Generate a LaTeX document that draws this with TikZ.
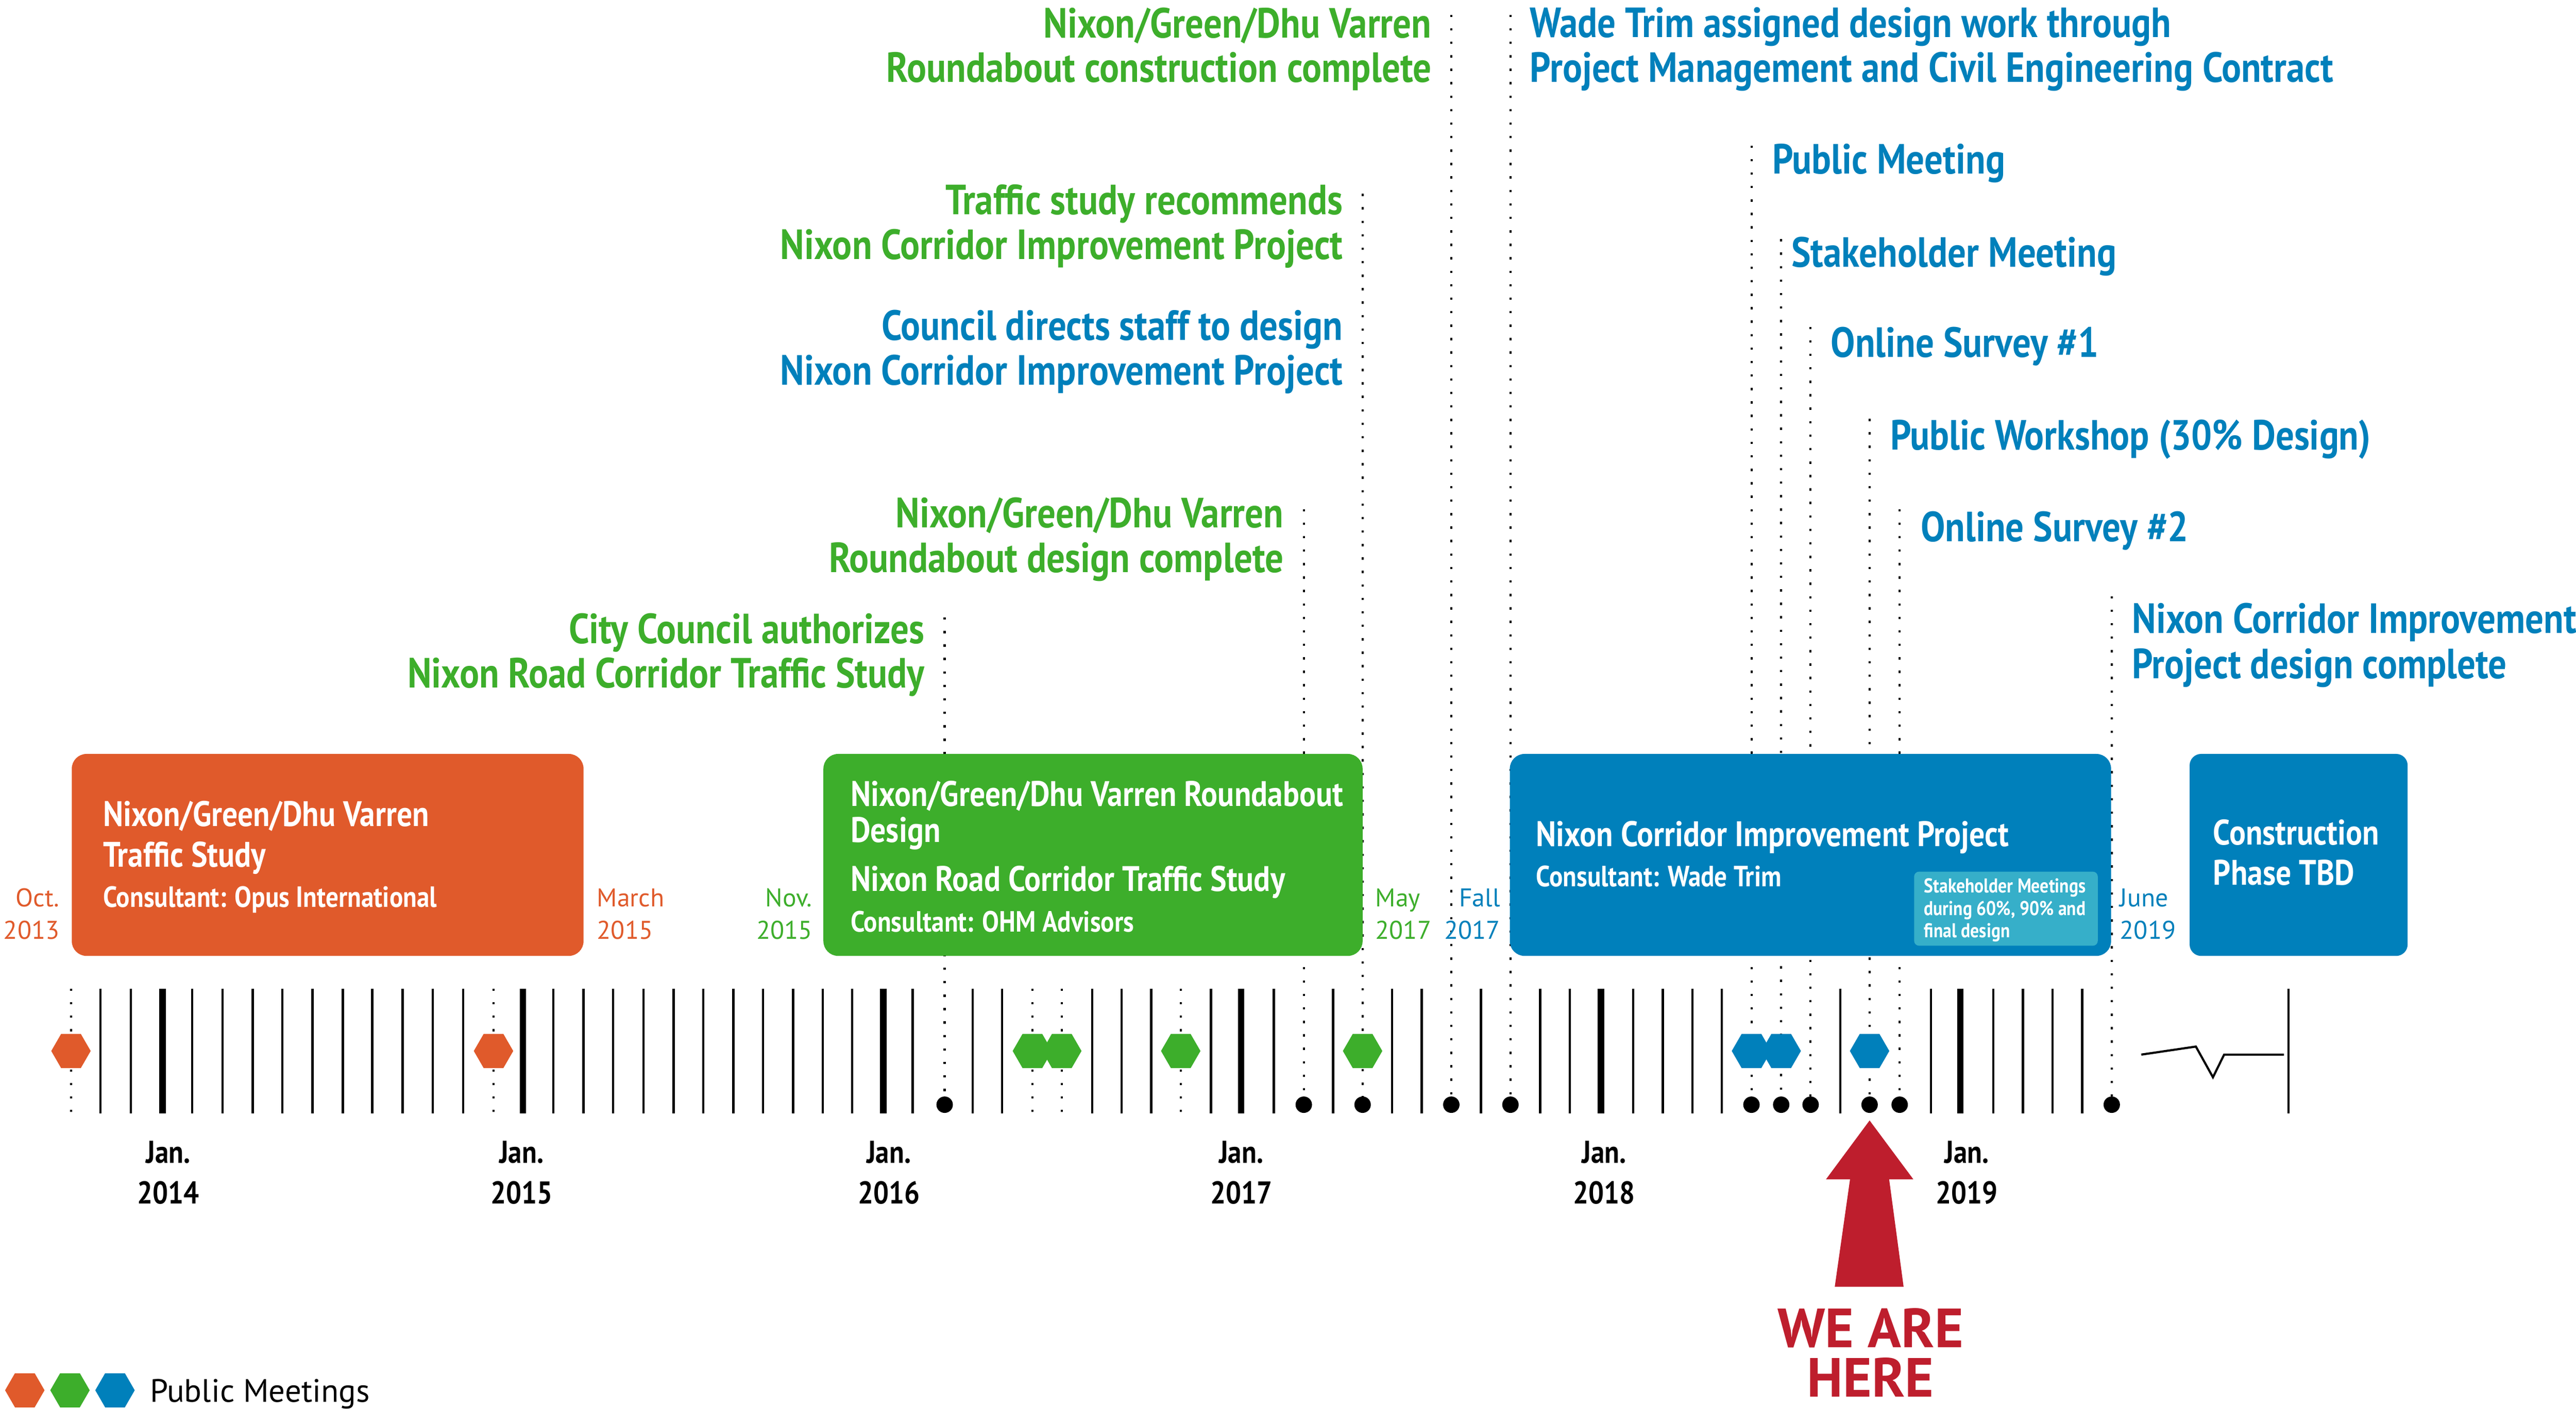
\documentclass[tikz,border=0pt]{standalone}
\usepackage{fontspec}
\setmainfont{PT Sans}
\newfontfamily\condf[FakeStretch=0.865]{PT Sans}
\usetikzlibrary{shapes.geometric}
\definecolor{corange}{HTML}{E05A2B}
\definecolor{cgreen}{HTML}{3DAE2B}
\definecolor{cblue}{HTML}{0080BB}
\definecolor{clight}{HTML}{36AFC9}
\definecolor{cred}{HTML}{BE1E2D}
\begin{document}
\begin{tikzpicture}[x=1pt,y=-1pt,
  toplbl/.style={inner sep=0pt, font=\condf\bfseries\fontsize{25.7}{26}\selectfont},
  lblR/.style={toplbl, anchor=base east},
  lblL/.style={toplbl, anchor=base west, text=cblue},
  boxtitle/.style={inner sep=0pt, anchor=base west, text=white, font=\condf\bfseries\fontsize{21.6}{24}\selectfont},
  boxsub/.style={inner sep=0pt, anchor=base west, text=white, font=\condf\bfseries\fontsize{17.8}{20}\selectfont},
  smalltxt/.style={inner sep=0pt, anchor=base west, text=white, font=\condf\bfseries\fontsize{12.2}{13}\selectfont},
  datelbl/.style={inner sep=0pt, font=\fontsize{15.6}{16}\selectfont},
  yearlbl/.style={inner sep=0pt, anchor=base, font=\condf\bfseries\fontsize{19.2}{20}\selectfont},
  phasebox/.style={draw=none, rounded corners=9pt, anchor=north west, inner sep=0pt},
  tickthin/.style={line width=1.4pt},
  tickthick/.style={line width=3.9pt},
  evline/.style={line width=1.3pt, dash pattern=on 1.4pt off 6.8pt},
  evdot/.style={circle, fill=black, minimum size=10pt, inner sep=0pt},
  hexm/.style={regular polygon, regular polygon sides=6, minimum size=24pt, inner sep=0pt, fill=#1}
]
\useasboundingbox[fill=white] (0,0) rectangle (1568,858);

% ---- month ticks
\foreach \x in {61.1,79.6,116.9,135.4,153.8,171.8,190.2,208.7,226.6,245.1,263.5,281.9,
  336.8,355.2,373.2,391.6,410.0,428.0,446.4,464.4,482.8,500.8,518.7,555.6,592.0,610.0,
  664.8,682.7,700.7,737.1,775.3,811.4,847.4,865.4,901.4,937.5,955.5,994.1,1012.1,1030.1,
  1048.1,1120.2,1175.3,1213.3,1231.4,1249.4,1267.4,1393.0}
  \draw[tickthin] (\x,602) -- (\x,678);
\foreach \x in {99.0,318.3,537.7,755.5,974.5,1193.3}
  \draw[tickthick] (\x,602) -- (\x,678);
\foreach \x in {43.2,300.4,628.4,646.3,718.7}
  \draw[evline] (\x,602) -- (\x,678);

% ---- break symbol
\draw[line width=1.3pt, line join=miter] (1303.4,642.2) -- (1336.6,637.3) -- (1347,656) -- (1353.8,642.2) -- (1390.2,642.2);

% ---- event dots and dotted lines
\node[evdot] (dE) at (575.0,672.7) {};
\node[evdot] (dD) at (793.6,672.7) {};
\node[evdot] (dB) at (829.4,672.7) {};
\node[evdot] (dA) at (883.4,672.7) {};
\node[evdot] (dF) at (919.4,672.7) {};
\node[evdot] (dG) at (1066.1,672.7) {};
\node[evdot] (dH) at (1084.2,672.7) {};
\node[evdot] (dI) at (1102.1,672.7) {};
\node[evdot] (dJ) at (1138.0,672.7) {};
\node[evdot] (dK) at (1156.3,672.7) {};
\node[evdot] (dL) at (1285.4,672.7) {};
\coordinate (tE) at (575.0,376);
\coordinate (tD) at (793.6,310);
\coordinate (tB) at (829.4,118);
\coordinate (tA) at (883.4,9);
\coordinate (tF) at (919.4,9);
\coordinate (tG) at (1066.1,88.6);
\coordinate (tH) at (1084.2,145.6);
\coordinate (tI) at (1102.1,199);
\coordinate (tJ) at (1138.0,255);
\coordinate (tK) at (1156.3,310);
\coordinate (tL) at (1285.4,363);
\foreach \e in {E,D,B,A,F,G,H,I,J,K,L}
  \draw[evline] (t\e) -- (d\e.center);

% ---- public meeting hexagons
\node[hexm=corange] (h1) at (43.2,640) {};
\node[hexm=corange] (h2) at (300.4,640) {};
\node[hexm=cgreen] (h3) at (628.4,640) {};
\node[hexm=cgreen] (h4) at (646.3,640) {};
\node[hexm=cgreen] (h5) at (718.7,640) {};
\node[hexm=cgreen] (h6) at (829.4,640) {};
\node[hexm=cblue] (h7) at (1066.1,640) {};
\node[hexm=cblue] (h8) at (1084.2,640) {};
\node[hexm=cblue] (h9) at (1138.0,640) {};

% ---- phase boxes
\node[phasebox, fill=corange, minimum width=311.5pt, minimum height=123pt] (boxA) at (43.5,458.9) {};
\node[phasebox, fill=cgreen, minimum width=328.2pt, minimum height=123pt] (boxB) at (501.0,458.9) {};
\node[phasebox, fill=cblue, minimum width=366pt, minimum height=123pt] (boxC) at (918.8,458.9) {};
\node[phasebox, fill=cblue, rounded corners=7pt, minimum width=132.7pt, minimum height=123pt] (boxD) at (1332.6,458.9) {};
\node[phasebox, fill=clight, rounded corners=3pt, minimum width=111.8pt, minimum height=45.1pt] (boxE) at (1164.9,530.6) {};

% box texts
\node[boxtitle] (a1) at (62.6,503.2) {Nixon/Green/Dhu Varren};
\node[boxtitle] (a2) at (62.6,527.9) {Traffic Study};
\node[boxsub] (a3) at (62.6,552.5) {Consultant: Opus International};
\node[boxtitle] (b1) at (517.6,491.0) {Nixon/Green/Dhu Varren Roundabout};
\node[boxtitle] (b2) at (517.6,512.8) {Design};
\node[boxtitle] (b3) at (517.6,542.7) {Nixon Road Corridor Traffic Study};
\node[boxsub] (b4) at (517.6,567.3) {Consultant: OHM Advisors};
\node[boxtitle] (c1) at (934.8,515.5) {Nixon Corridor Improvement Project};
\node[boxsub] (c2) at (934.8,540.0) {Consultant: Wade Trim};
\node[boxtitle] (d1) at (1347.0,514.4) {Construction};
\node[boxtitle] (d2) at (1347.0,538.8) {Phase TBD};
\node[smalltxt] (e1) at (1171.0,543.7) {Stakeholder Meetings};
\node[smalltxt] (e2) at (1171.0,557.3) {during 60\%, 90\% and};
\node[smalltxt] (e3) at (1171.0,570.9) {final design};

% ---- date labels beside boxes
\node[datelbl, anchor=base east, text=corange] (m1) at (36.4,552.2) {Oct.};
\node[datelbl, anchor=base east, text=corange] (m2) at (36.4,571.8) {2013};
\node[datelbl, anchor=base west, text=corange] (m3) at (363.2,552.2) {March};
\node[datelbl, anchor=base west, text=corange] (m4) at (363.2,571.8) {2015};
\node[datelbl, anchor=base east, text=cgreen] (m5) at (494.6,552.2) {Nov.};
\node[datelbl, anchor=base east, text=cgreen] (m6) at (494.6,571.8) {2015};
\node[datelbl, anchor=base west, text=cgreen] (m7) at (837.0,552.2) {May};
\node[datelbl, anchor=base west, text=cgreen] (m8) at (837.0,571.8) {2017};
\node[datelbl, anchor=base east, text=cblue] (m9) at (913.3,552.2) {Fall};
\node[datelbl, anchor=base east, text=cblue] (m10) at (913.3,571.8) {2017};
\node[datelbl, anchor=base west, text=cblue] (m11) at (1290.2,552.2) {June};
\node[datelbl, anchor=base west, text=cblue] (m12) at (1290.2,571.8) {2019};

% ---- year labels
\foreach \x/\y [count=\i] in {102.5/2014,317.4/2015,541.0/2016,755.5/2017,976.4/2018,1197.2/2019}{
  \node[yearlbl] (jan\i) at (\x,708.3) {Jan.};
  \node[yearlbl] (yr\i) at (\x,733.0) {\y};
}

% ---- event labels (right aligned)
\node[lblR, text=cgreen] (lA1) at (871.5,23.1) {Nixon/Green/Dhu Varren};
\node[lblR, text=cgreen] (lA2) at (871.5,49.9) {Roundabout construction complete};
\node[lblR, text=cgreen] (lB1) at (817.6,130.6) {Traffic study recommends};
\node[lblR, text=cgreen] (lB2) at (817.6,157.8) {Nixon Corridor Improvement Project};
\node[lblR, text=cblue] (lC1) at (817.6,207.0) {Council directs staff to design};
\node[lblR, text=cblue] (lC2) at (817.6,234.4) {Nixon Corridor Improvement Project};
\node[lblR, text=cgreen] (lD1) at (781.5,321.3) {Nixon/Green/Dhu Varren};
\node[lblR, text=cgreen] (lD2) at (781.5,348.6) {Roundabout design complete};
\node[lblR, text=cgreen] (lE1) at (563.0,391.8) {City Council authorizes};
\node[lblR, text=cgreen] (lE2) at (563.0,418.7) {Nixon Road Corridor Traffic Study};
% ---- event labels (left aligned)
\node[lblL] (lF1) at (931.1,22.6) {Wade Trim assigned design work through};
\node[lblL] (lF2) at (931.1,50.1) {Project Management and Civil Engineering Contract};
\node[lblL] (lG) at (1078.6,106.0) {Public Meeting};
\node[lblL] (lH) at (1090.3,162.6) {Stakeholder Meeting};
\node[lblL] (lI) at (1114.2,217.6) {Online Survey \#1};
\node[lblL] (lJ) at (1150.4,273.8) {Public Workshop (30\% Design)};
\node[lblL] (lK) at (1168.9,329.7) {Online Survey \#2};
\node[lblL] (lL1) at (1297.6,385.5) {Nixon Corridor Improvement};
\node[lblL] (lL2) at (1297.6,413.1) {Project design complete};

% ---- we are here
\fill[cred] (1138.0,682.3) -- (1164.6,718.1) -- (1149.9,718.1) -- (1158.7,783.6)
  -- (1116.8,783.6) -- (1126.1,718.1) -- (1111.5,718.1) -- cycle;
\node[inner sep=0pt, anchor=south, align=center, text=cred, font=\bfseries\fontsize{33.6}{30.1}\selectfont] (we) at (1138.6,850.7) {WE ARE\\HERE};

% ---- legend
\node[hexm=corange] (lg1) at (15.1,846.6) {};
\node[hexm=cgreen] (lg2) at (42.6,846.6) {};
\node[hexm=cblue] (lg3) at (70.0,846.6) {};
\node[inner sep=0pt, anchor=base west, font=\fontsize{19.7}{20}\selectfont] (lgt) at (91.1,853.9) {Public Meetings};
\end{tikzpicture}
\end{document}
